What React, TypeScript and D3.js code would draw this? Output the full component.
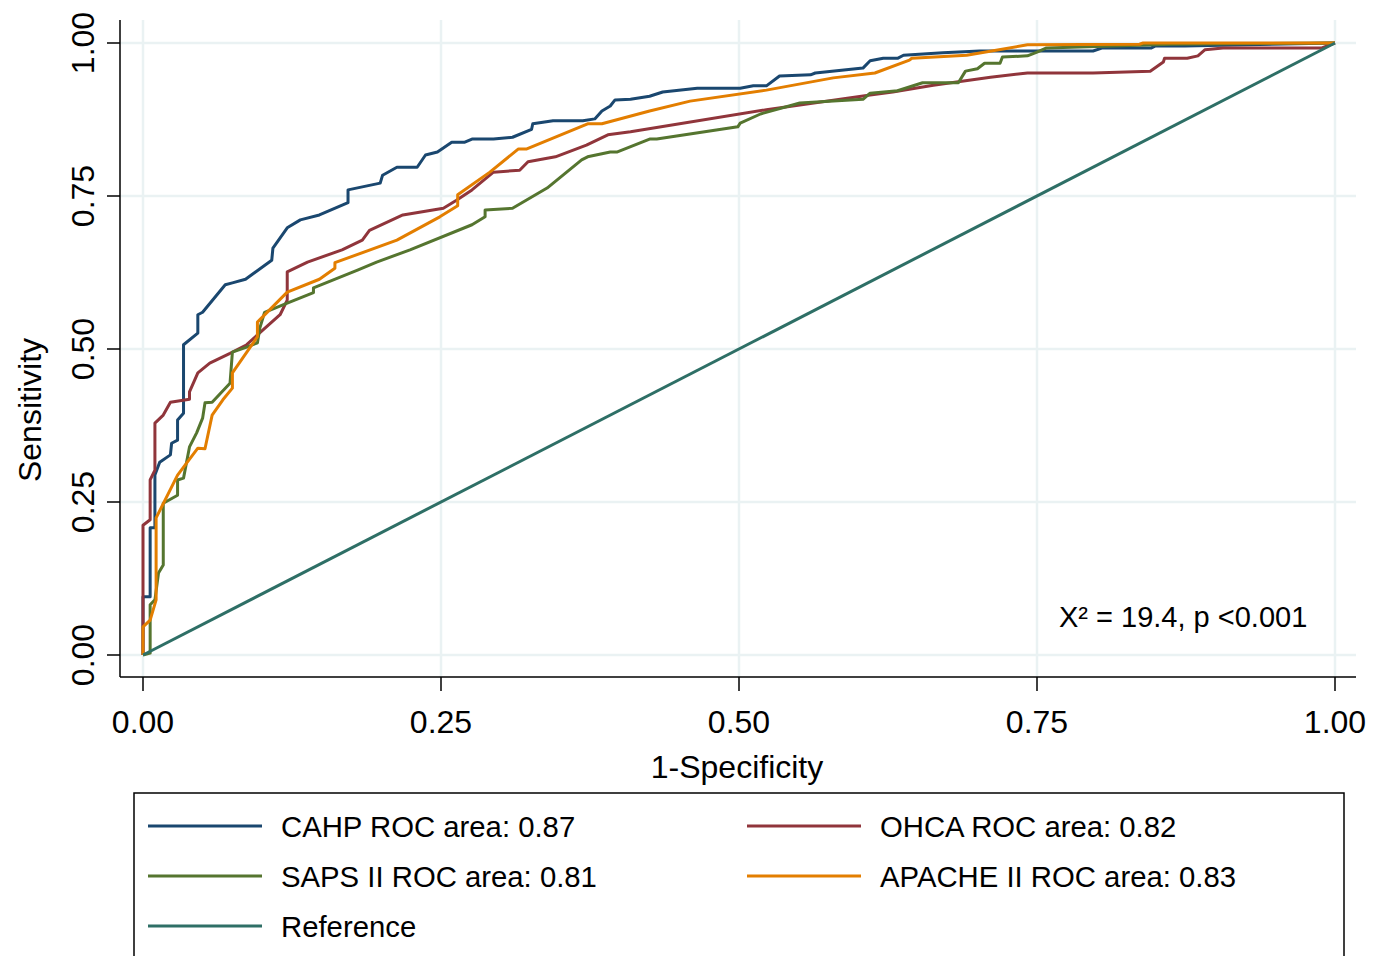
import * as d3 from 'd3';

type Pt = [number, number]; // [1-specificity, sensitivity]

const CAHP: Pt[] = [
  [0, 0], [0, 0.095], [0.006, 0.095], [0.006, 0.208], [0.010, 0.208], [0.010, 0.294],
  [0.014, 0.315], [0.023, 0.327], [0.024, 0.346], [0.029, 0.351], [0.029, 0.384],
  [0.034, 0.395], [0.034, 0.507], [0.046, 0.526], [0.046, 0.556], [0.050, 0.560],
  [0.069, 0.605], [0.075, 0.608], [0.086, 0.614], [0.108, 0.645], [0.109, 0.665],
  [0.121, 0.698], [0.132, 0.711], [0.148, 0.719], [0.172, 0.739], [0.172, 0.760],
  [0.199, 0.771], [0.201, 0.784], [0.213, 0.797], [0.230, 0.797], [0.237, 0.817],
  [0.247, 0.822], [0.259, 0.838], [0.270, 0.838], [0.276, 0.843], [0.294, 0.843],
  [0.310, 0.846], [0.326, 0.859], [0.327, 0.868], [0.344, 0.873], [0.369, 0.873],
  [0.379, 0.876], [0.385, 0.889], [0.392, 0.897], [0.396, 0.907], [0.409, 0.908],
  [0.425, 0.913], [0.436, 0.920], [0.465, 0.926], [0.501, 0.926], [0.512, 0.930],
  [0.523, 0.930], [0.534, 0.946], [0.560, 0.948], [0.564, 0.951], [0.604, 0.959],
  [0.610, 0.971], [0.621, 0.975], [0.633, 0.975], [0.638, 0.980], [0.671, 0.984],
  [0.702, 0.987], [0.797, 0.987], [0.805, 0.992], [0.846, 0.992], [0.849, 0.995],
  [0.874, 0.995], [1, 1],
];

const OHCA: Pt[] = [
  [0, 0], [0, 0.212], [0.006, 0.221], [0.006, 0.286], [0.010, 0.302], [0.010, 0.379],
  [0.017, 0.392], [0.023, 0.413], [0.039, 0.418], [0.039, 0.430], [0.046, 0.461],
  [0.056, 0.477], [0.073, 0.493], [0.087, 0.507], [0.096, 0.523], [0.115, 0.556],
  [0.121, 0.580], [0.121, 0.626], [0.138, 0.642], [0.167, 0.662], [0.184, 0.678],
  [0.190, 0.694], [0.218, 0.719], [0.252, 0.730], [0.263, 0.743], [0.276, 0.760],
  [0.294, 0.789], [0.316, 0.792], [0.323, 0.806], [0.346, 0.814], [0.372, 0.833],
  [0.390, 0.850], [0.409, 0.855], [0.523, 0.891], [0.610, 0.915], [0.629, 0.920],
  [0.663, 0.931], [0.711, 0.944], [0.742, 0.951], [0.797, 0.951], [0.845, 0.954],
  [0.856, 0.969], [0.857, 0.975], [0.876, 0.975], [0.885, 0.979], [0.891, 0.989],
  [0.906, 0.992], [0.989, 0.992], [1, 1],
];

const SAPS: Pt[] = [
  [0, 0], [0.006, 0.003], [0.006, 0.082], [0.010, 0.090], [0.013, 0.134], [0.017, 0.147],
  [0.017, 0.248], [0.029, 0.261], [0.029, 0.286], [0.034, 0.289], [0.039, 0.340],
  [0.045, 0.363], [0.050, 0.387], [0.052, 0.412], [0.058, 0.413], [0.073, 0.444],
  [0.075, 0.495], [0.087, 0.503], [0.096, 0.510], [0.098, 0.534], [0.102, 0.560],
  [0.121, 0.575], [0.143, 0.592], [0.143, 0.600], [0.180, 0.629], [0.196, 0.642],
  [0.224, 0.662], [0.276, 0.703], [0.287, 0.716], [0.287, 0.727], [0.310, 0.730],
  [0.339, 0.763], [0.368, 0.809], [0.373, 0.814], [0.392, 0.822], [0.398, 0.822],
  [0.425, 0.843], [0.431, 0.843], [0.499, 0.863], [0.501, 0.869], [0.518, 0.884],
  [0.551, 0.902], [0.604, 0.908], [0.610, 0.918], [0.633, 0.922], [0.654, 0.935],
  [0.684, 0.935], [0.690, 0.954], [0.700, 0.958], [0.706, 0.967], [0.719, 0.967],
  [0.721, 0.977], [0.742, 0.979], [0.750, 0.985], [0.758, 0.992], [0.863, 0.998],
  [1, 1],
];

const APACHE: Pt[] = [
  [0, 0], [0, 0.046], [0.006, 0.057], [0.011, 0.090], [0.011, 0.224], [0.029, 0.294],
  [0.046, 0.338], [0.052, 0.337], [0.058, 0.392], [0.067, 0.417], [0.075, 0.436],
  [0.075, 0.461], [0.096, 0.520], [0.096, 0.544], [0.121, 0.593], [0.148, 0.614],
  [0.161, 0.632], [0.161, 0.641], [0.213, 0.678], [0.249, 0.716], [0.264, 0.734],
  [0.264, 0.752], [0.291, 0.789], [0.315, 0.827], [0.322, 0.827], [0.373, 0.868],
  [0.385, 0.868], [0.425, 0.889], [0.459, 0.905], [0.523, 0.923], [0.579, 0.943],
  [0.614, 0.951], [0.643, 0.972], [0.645, 0.975], [0.691, 0.980], [0.742, 0.997],
  [0.836, 0.998], [0.839, 1], [1, 1],
];

const REFERENCE: Pt[] = [[0, 0], [1, 1]];

const TICKS = [0, 0.25, 0.5, 0.75, 1];

const SERIES = [
  { name: 'CAHP ROC area: 0.87', data: CAHP, color: '#1a476f' },
  { name: 'OHCA ROC area: 0.82', data: OHCA, color: '#90353b' },
  { name: 'SAPS II ROC area: 0.81', data: SAPS, color: '#55752f' },
  { name: 'APACHE II ROC area: 0.83', data: APACHE, color: '#e37e00' },
  { name: 'Reference', data: REFERENCE, color: '#2e6f66' },
];

const FONT = '"Liberation Sans", Arial, Helvetica, sans-serif';

export default function App() {
  const W = 1375;
  const H = 956;
  const frame = { left: 120, right: 1356, top: 20, bottom: 677 };

  const x = d3.scaleLinear().domain([0, 1]).range([143, 1335]);
  const y = d3.scaleLinear().domain([0, 1]).range([655, 43]);

  const line = d3.line<Pt>().x(d => x(d[0])).y(d => y(d[1]));

  // legend layout: two columns, filled row by row
  const legendRows = [826, 876, 926];
  const legendCols = [148, 747];

  return (
    <>
      <style>{`body{margin:0;background:#fff}`}</style>
      <svg width={W} height={H} style={{ display: 'block', background: '#fff' }} fontFamily={FONT}>
        {/* Grid */}
        {TICKS.map(t => (
          <g key={`g${t}`}>
            <line x1={frame.left} x2={frame.right} y1={y(t)} y2={y(t)} stroke="#eaf2f3" strokeWidth={2.5} />
            <line x1={x(t)} x2={x(t)} y1={frame.top} y2={frame.bottom} stroke="#eaf2f3" strokeWidth={2.5} />
          </g>
        ))}

        {/* Axes */}
        <line x1={frame.left} x2={frame.left} y1={frame.top} y2={frame.bottom} stroke="#000" strokeWidth={1.5} />
        <line x1={frame.left} x2={frame.right} y1={frame.bottom} y2={frame.bottom} stroke="#000" strokeWidth={1.5} />

        {TICKS.map(t => (
          <g key={`y${t}`}>
            <line x1={107} x2={frame.left} y1={y(t)} y2={y(t)} stroke="#000" strokeWidth={1.5} />
            <text transform={`translate(94,${y(t)}) rotate(-90)`} textAnchor="middle" fontSize={32} fill="#000">
              {t.toFixed(2)}
            </text>
          </g>
        ))}
        {TICKS.map(t => (
          <g key={`x${t}`}>
            <line x1={x(t)} x2={x(t)} y1={frame.bottom} y2={691} stroke="#000" strokeWidth={1.5} />
            <text x={x(t)} y={733} textAnchor="middle" fontSize={32} fill="#000">
              {t.toFixed(2)}
            </text>
          </g>
        ))}

        <text x={737} y={778} textAnchor="middle" fontSize={32} fill="#000">1-Specificity</text>
        <text transform={`translate(41,410) rotate(-90)`} textAnchor="middle" fontSize={32} fill="#000">Sensitivity</text>

        {/* Curves */}
        {SERIES.map(s => (
          <path key={s.name} d={line(s.data) ?? ''} fill="none" stroke={s.color} strokeWidth={3} strokeLinejoin="round" />
        ))}

        <text x={1059} y={627} fontSize={29} fill="#000">X² = 19.4, p &lt;0.001</text>

        {/* Legend */}
        <rect x={134} y={793} width={1210} height={175} fill="#fff" stroke="#000" strokeWidth={1.5} />
        {SERIES.map((s, i) => {
          const cx = legendCols[i % 2];
          const cy = legendRows[Math.floor(i / 2)];
          return (
            <g key={`l${s.name}`}>
              <line x1={cx} x2={cx + 114} y1={cy} y2={cy} stroke={s.color} strokeWidth={3} />
              <text x={cx + 133} y={cy} dominantBaseline="central" fontSize={29.3} fill="#000">{s.name}</text>
            </g>
          );
        })}
      </svg>
    </>
  );
}
